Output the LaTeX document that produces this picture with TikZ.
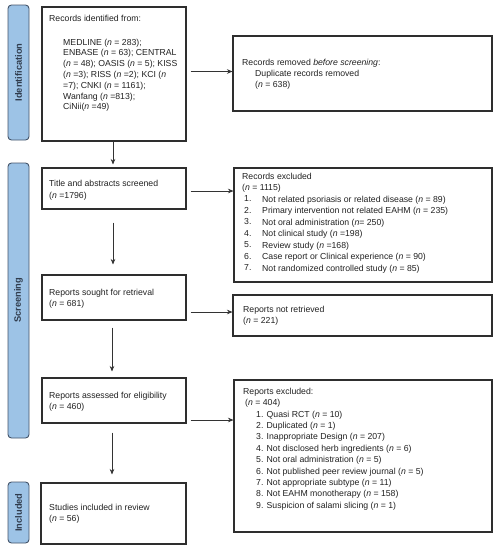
\documentclass[tikz,border=0pt]{standalone}
\usepackage{fontspec}
\setmainfont{Liberation Sans}
\usetikzlibrary{arrows.meta,calc}
\definecolor{barfill}{HTML}{9DC3E6}
\definecolor{barline}{HTML}{44546A}
\definecolor{boxline}{HTML}{2E2E2E}
\definecolor{txtcol}{HTML}{222222}
\definecolor{bartxt}{HTML}{2F3B4C}
\definecolor{arrcol}{HTML}{333333}
\begin{document}
\begin{tikzpicture}[x=1pt,y=-1pt,
  box/.style={draw=boxline, line width=1.1pt, inner sep=0pt, fill=white},
  bar/.style={draw=barline, fill=barfill, rounded corners=3.5pt, line width=0.9pt, rotate=90, inner sep=0pt,
    font=\fontsize{9.3}{9.3}\selectfont\bfseries, text=bartxt},
  txt/.style={anchor=north west, inner sep=0pt, align=left, font=\fontsize{8.7}{10.8}\selectfont, text=txtcol},
  lst/.style={txt, font=\fontsize{8.7}{11.45}\selectfont},
  arr/.style={-{Stealth[length=5.5pt,width=4.6pt]}, draw=arrcol, line width=0.7pt}]
\useasboundingbox (0,0) rectangle (499,550);
\fill[white] (0,0) rectangle (499,550);

% side bars
\node[bar, minimum width=135pt, minimum height=21pt] (bid) at (18.5,72.5) {Identification};
\node[bar, minimum width=275pt, minimum height=21pt] (bsc) at (18.5,300.5) {Screening};
\node[bar, minimum width=61pt, minimum height=21pt] (bin) at (18.5,512.5) {Included};

% boxes
\node[box, minimum width=144pt, minimum height=134pt] (id) at (114,74) {};
\node[box, minimum width=259pt, minimum height=75pt] (rem) at (362.5,73.5) {};
\node[box, minimum width=144pt, minimum height=41pt] (tit) at (114,188.5) {};
\node[box, minimum width=258pt, minimum height=114pt] (exc) at (363,225) {};
\node[box, minimum width=144pt, minimum height=45pt] (sou) at (114,297.5) {};
\node[box, minimum width=259pt, minimum height=41pt] (nre) at (362.5,315.5) {};
\node[box, minimum width=144pt, minimum height=45pt] (ass) at (114,400.5) {};
\node[box, minimum width=258pt, minimum height=152pt] (rex) at (363,456) {};
\node[box, minimum width=145pt, minimum height=61pt] (stu) at (113.5,513.5) {};

% texts
\node[txt] (t1) at (49,15.3) {Records identified from:};
\node[txt] (t2) at (63,38.5) {MEDLINE (\textit{n} = 283);\\
ENBASE (\textit{n} = 63); CENTRAL\\
(\textit{n} = 48); OASIS (\textit{n} = 5); KISS\\
(\textit{n} =3); RISS (\textit{n} =2); KCI (\textit{n}\\
=7); CNKI (\textit{n} = 1161);\\
Wanfang (\textit{n} =813);\\
CiNii(\textit{n} =49)};
\node[txt, font=\fontsize{8.7}{11}\selectfont] (t3) at (242,58.8) {Records removed \textit{before screening}:\\
\hspace*{13pt}Duplicate records removed\\
\hspace*{13pt}(\textit{n} = 638)};
\node[lst] (t4) at (49,180.3) {Title and abstracts screened\\(\textit{n} =1796)};
\node[lst] (t5) at (242,172.8) {Records excluded\\(\textit{n} = 1115)};
\node[lst] (t6) at (244,195.8) {1.\\2.\\3.\\4.\\5.\\6.\\7.};
\node[lst] (t7) at (262,195.8) {Not related psoriasis or related disease (\textit{n} = 89)\\
Primary intervention not related EAHM (\textit{n} = 235)\\
Not oral administration (\textit{n}= 250)\\
Not clinical study (\textit{n} =198)\\
Review study (\textit{n} =168)\\
Case report or Clinical experience (\textit{n} = 90)\\
Not randomized controlled study (\textit{n} = 85)};
\node[lst] (t8) at (49,288.8) {Reports sought for retrieval\\(\textit{n} = 681)};
\node[lst] (t9) at (243,305.8) {Reports not retrieved\\(\textit{n} = 221)};
\node[lst] (t10) at (49,391.8) {Reports assessed for eligibility\\(\textit{n} = 460)};
\node[lst, font=\fontsize{8.7}{11.4}\selectfont] (t11) at (243,387.8) {Reports excluded:\\
\hspace*{2pt}(\textit{n} = 404)\\
\hspace*{13pt}1. Quasi RCT (\textit{n} = 10)\\
\hspace*{13pt}2. Duplicated (\textit{n} = 1)\\
\hspace*{13pt}3. Inappropriate Design (\textit{n} = 207)\\
\hspace*{13pt}4. Not disclosed herb ingredients (\textit{n} = 6)\\
\hspace*{13pt}5. Not oral administration (\textit{n} = 5)\\
\hspace*{13pt}6. Not published peer review journal (\textit{n} = 5)\\
\hspace*{13pt}7. Not appropriate subtype (\textit{n} = 11)\\
\hspace*{13pt}8. Not EAHM monotherapy (\textit{n} = 158)\\
\hspace*{13pt}9. Suspicion of salami slicing (\textit{n} = 1)};
\node[lst] (t12) at (49,503.8) {Studies included in review\\(\textit{n} = 56)};

% horizontal arrows
\coordinate (a1) at ($(id.east)+(4,-2.5)$);
\draw[arr] (a1) -- (a1 -| rem.west);
\coordinate (a2) at ($(tit.east)+(4,2.5)$);
\draw[arr] (a2) -- (a2 -| exc.west);
\coordinate (a3) at ($(sou.east)+(4,14.5)$);
\draw[arr] (a3) -- (a3 -| nre.west);
\coordinate (a4) at ($(ass.east)+(4,19.5)$);
\draw[arr] (a4) -- (a4 -| rex.west);

% vertical arrows
\draw[arr, shorten >=3pt] ([xshift=-1pt]id.south) -- ([xshift=-1pt]id.south |- tit.north);
\draw[arr, shorten <=13pt, shorten >=10pt] ([xshift=-1pt]tit.south) -- ([xshift=-1pt]tit.south |- sou.north);
\draw[arr, shorten <=7pt, shorten >=6pt] ([xshift=-2pt]sou.south) -- ([xshift=-2pt]sou.south |- ass.north);
\draw[arr, shorten <=9pt, shorten >=8pt] ([xshift=-2pt]ass.south) -- ([xshift=-2pt]ass.south |- stu.north);
\end{tikzpicture}
\end{document}
